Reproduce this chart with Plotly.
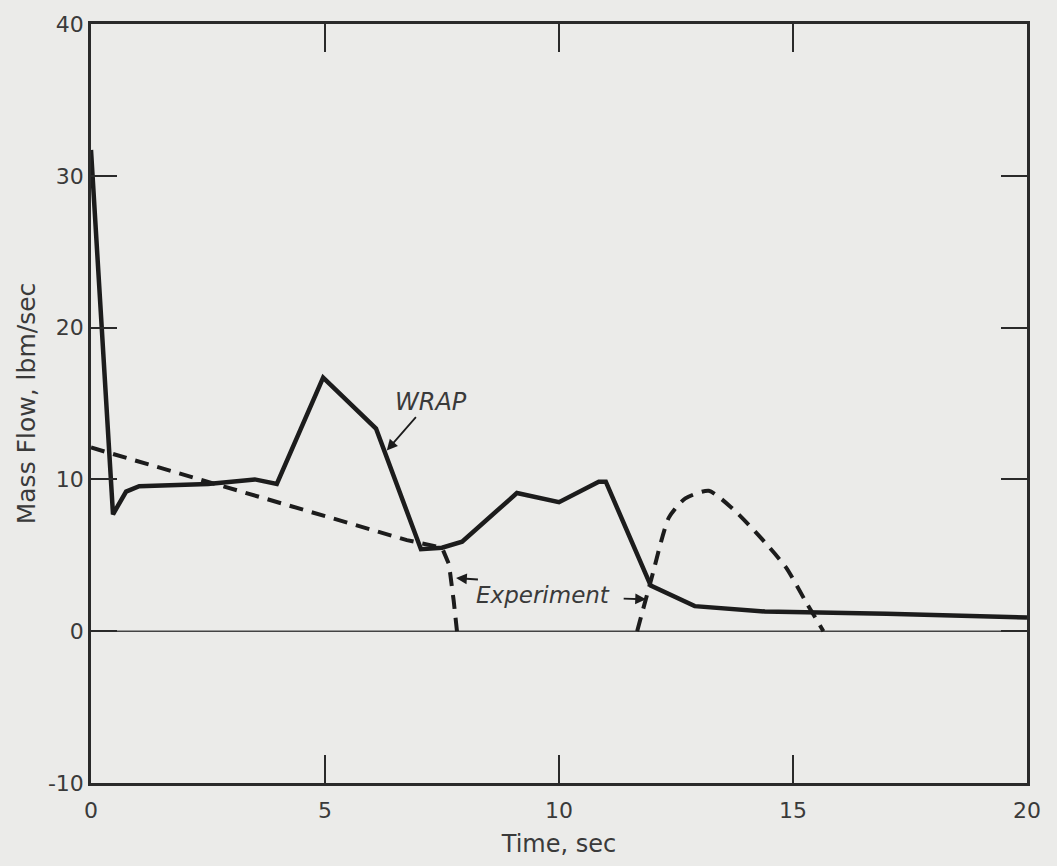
import plotly.graph_objects as go

# WRAP calculation (solid curve)
wrap_time = [0, 0.47, 0.75, 1.03, 2.5, 3.5, 3.97, 4.96, 6.09, 7.05, 7.5, 7.93,
             9.1, 10.0, 10.85, 11.0, 11.96, 12.9, 14.4, 17.0, 20.0]
wrap_flow = [31.7, 7.7, 9.2, 9.55, 9.7, 10.0, 9.7, 16.7, 13.35, 5.4, 5.5, 5.9,
             9.1, 8.5, 9.85, 9.85, 3.0, 1.65, 1.3, 1.15, 0.9]

# Experimental data (dashed curve, two segments)
exp_time_a = [0, 6.75, 7.5, 7.65, 7.75, 7.82]
exp_flow_a = [12.1, 6.0, 5.5, 4.4, 2.0, 0.0]
exp_time_b = [11.67, 11.97, 12.35, 12.7, 13.2, 13.7, 14.3, 14.85, 15.3, 15.65]
exp_flow_b = [0.0, 3.4, 7.5, 8.75, 9.25, 8.1, 6.2, 4.2, 1.8, 0.0]

x_ticks = [0, 5, 10, 15, 20]
y_ticks = [-10, 0, 10, 20, 30, 40]

ink = "#1c1c1c"
label_color = "#3a3a3a"
paper = "#ebebe9"
font_family = "'DejaVu Sans', sans-serif"

fig = go.Figure()

# zero reference line
fig.add_trace(go.Scatter(x=[0, 20], y=[0, 0], mode="lines",
                         line=dict(color="#444444", width=1.5),
                         hoverinfo="skip", showlegend=False))

fig.add_trace(go.Scatter(x=exp_time_a, y=exp_flow_a, mode="lines",
                         line=dict(color=ink, width=4, dash="14px,9px"),
                         showlegend=False))
fig.add_trace(go.Scatter(x=exp_time_b, y=exp_flow_b, mode="lines",
                         line=dict(color=ink, width=4, dash="14px,9px", shape="spline", smoothing=0.6),
                         showlegend=False))
fig.add_trace(go.Scatter(x=wrap_time, y=wrap_flow, mode="lines",
                         line=dict(color=ink, width=4.5),
                         showlegend=False))

annotations = [
    dict(x=7.26, y=15.1, text="<i>WRAP</i>", showarrow=False,
         font=dict(size=24, color=label_color, family=font_family)),
    dict(x=6.32, y=11.9, ax=6.97, ay=14.2, xref="x", yref="y", axref="x", ayref="y",
         text="", showarrow=True, arrowhead=2, arrowsize=1.2, arrowwidth=1.8, arrowcolor=ink),
    dict(x=9.66, y=2.4, text="<i>Experiment</i>", showarrow=False,
         font=dict(size=23, color=label_color, family=font_family)),
    dict(x=7.8, y=3.5, ax=8.3, ay=3.4, xref="x", yref="y", axref="x", ayref="y",
         text="", showarrow=True, arrowhead=2, arrowsize=1.2, arrowwidth=1.8, arrowcolor=ink),
    dict(x=11.86, y=2.1, ax=11.35, ay=2.15, xref="x", yref="y", axref="x", ayref="y",
         text="", showarrow=True, arrowhead=2, arrowsize=1.2, arrowwidth=1.8, arrowcolor=ink),
]

fig.update_layout(
    width=1057, height=866,
    margin=dict(l=91, r=30, t=17, b=82),
    paper_bgcolor=paper, plot_bgcolor=paper,
    font=dict(family=font_family, size=22, color=label_color),
    annotations=annotations,
    xaxis=dict(
        range=[0, 20], tickvals=x_ticks, ticktext=[str(v) for v in x_ticks],
        showgrid=False, zeroline=False,
        showline=True, linecolor="#2a2a2a", linewidth=2.5, mirror="ticks",
        ticks="inside", ticklen=28, tickwidth=1.5, tickcolor="#2a2a2a",
        ticklabelstandoff=6,
        title=dict(text="Time, sec", font=dict(size=24, color=label_color), standoff=14),
        tickfont=dict(size=22, color=label_color),
    ),
    yaxis=dict(
        range=[-10, 40], tickvals=y_ticks, ticktext=[str(v) for v in y_ticks],
        showgrid=False, zeroline=False,
        showline=True, linecolor="#2a2a2a", linewidth=2.5, mirror="ticks",
        ticks="inside", ticklen=26, tickwidth=1.5, tickcolor="#2a2a2a",
        title=dict(text="Mass Flow, lbm/sec", font=dict(size=25, color=label_color), standoff=6),
        tickfont=dict(size=22, color=label_color),
    ),
)

fig.write_html("out.html")
